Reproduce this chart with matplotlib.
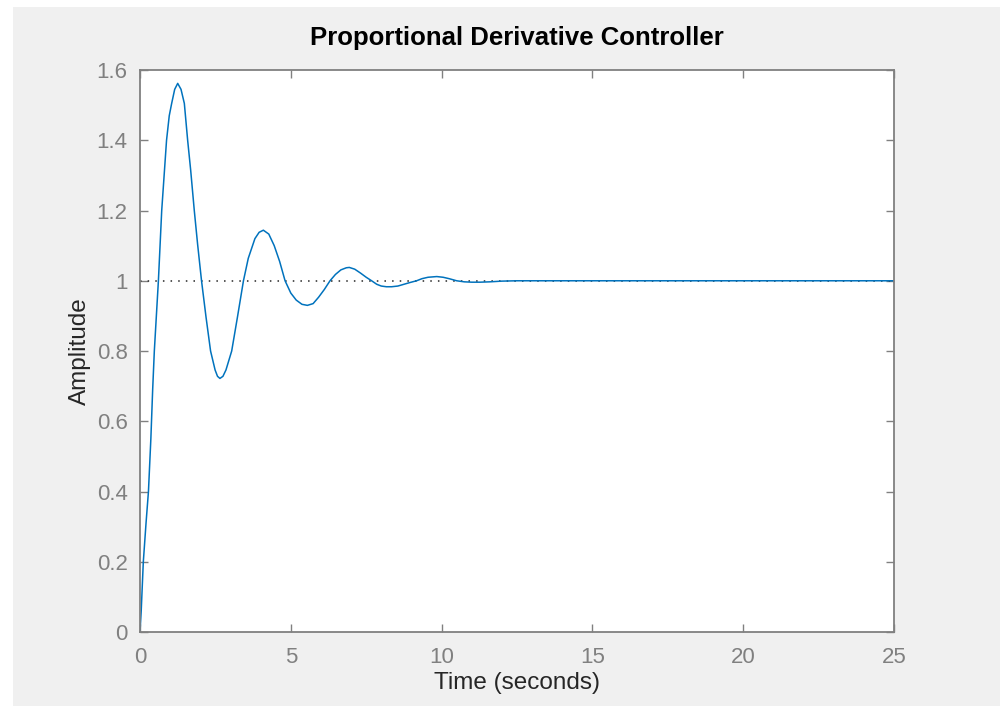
import matplotlib.pyplot as plt
from matplotlib.patches import Rectangle

# valores (resposta ao degrau)
t = [0, 0.04, 0.11, 0.20, 0.28, 0.36, 0.42, 0.475, 0.61, 0.72, 0.88, 0.97, 1.05, 1.15,
     1.25, 1.36, 1.47, 1.58, 1.68, 1.80, 1.91, 2.04, 2.19, 2.34, 2.49, 2.57, 2.65,
     2.75, 2.85, 3.04, 3.23, 3.43, 3.59, 3.81, 3.95, 4.09, 4.27, 4.45, 4.63, 4.81,
     5.00, 5.18, 5.37, 5.55, 5.74, 5.92, 6.11, 6.30, 6.48, 6.66, 6.84, 6.94, 7.12,
     7.31, 7.50, 7.68, 7.85, 8.00, 8.17, 8.34, 8.55, 8.75, 8.95, 9.17, 9.35, 9.55,
     9.84, 10.05, 10.25, 10.5, 10.75, 11.0, 11.27, 11.6, 12.0, 12.5, 15.0, 20.0, 25.0]
amp = [0, 0.06, 0.20, 0.31, 0.40, 0.55, 0.69, 0.80, 1.00, 1.20, 1.40, 1.47, 1.505, 1.545,
       1.562, 1.545, 1.505, 1.40, 1.315, 1.20, 1.104, 1.00, 0.896, 0.80, 0.746, 0.728, 0.722,
       0.728, 0.746, 0.80, 0.896, 1.00, 1.064, 1.12, 1.138, 1.144, 1.133, 1.10, 1.055, 1.00,
       0.965, 0.945, 0.933, 0.930, 0.935, 0.953, 0.975, 1.00, 1.018, 1.031, 1.037, 1.038, 1.033,
       1.022, 1.010, 1.00, 0.99, 0.985, 0.983, 0.983, 0.985, 0.99, 0.995, 1.00, 1.006, 1.010,
       1.012, 1.010, 1.006, 1.00, 0.997, 0.996, 0.996, 0.997, 0.999, 1.00, 1.00, 1.00, 1.00]
ref = 1.0
xticks = [0, 5, 10, 15, 20, 25]
yticks = [0, 0.2, 0.4, 0.6, 0.8, 1, 1.2, 1.4, 1.6]
ylabels = ['0', '0.2', '0.4', '0.6', '0.8', '1', '1.2', '1.4', '1.6']

plt.rcParams['font.family'] = ['Liberation Sans', 'DejaVu Sans']

fig = plt.figure(figsize=(10, 7.06), dpi=100)
fig.patch.set_facecolor('white')
# fundo cinza como no MATLAB (faixa branca em cima e a esquerda)
fig.patches.append(Rectangle((13 / 1000, 0), 1, 1 - 7 / 706, transform=fig.transFigure,
                             facecolor='#f0f0f0', edgecolor='none', zorder=-1))

ax = fig.add_axes([0.14, 0.1048, 0.754, 0.796])
ax.set_facecolor('white')

ax.plot([0, 25], [ref, ref], linestyle=(0, (1, 4)), color='#262626', linewidth=1.1)
ax.plot(t, amp, color='#0072BD', linewidth=1.1)

ax.set_xlim(0, 25)
ax.set_ylim(0, 1.6)
ax.set_xticks(xticks)
ax.set_yticks(yticks)
ax.set_yticklabels(ylabels)

for s in ax.spines.values():
    s.set_color('#808080')
    s.set_linewidth(1.3)
ax.tick_params(direction='in', length=6, width=1, colors='#808080', labelsize=16,
               top=True, right=True)
ax.tick_params(axis='x', pad=11)
ax.tick_params(axis='y', pad=9)

ax.set_xlabel('Time (seconds)', fontsize=17.5, color='#262626', labelpad=3)
ax.set_ylabel('Amplitude', fontsize=17.5, color='#262626', labelpad=4)
ax.set_title('Proportional Derivative Controller', fontsize=18.5, fontweight='bold',
             color='#000000', pad=18)

fig.savefig('out.png', dpi=100, facecolor=fig.get_facecolor())
